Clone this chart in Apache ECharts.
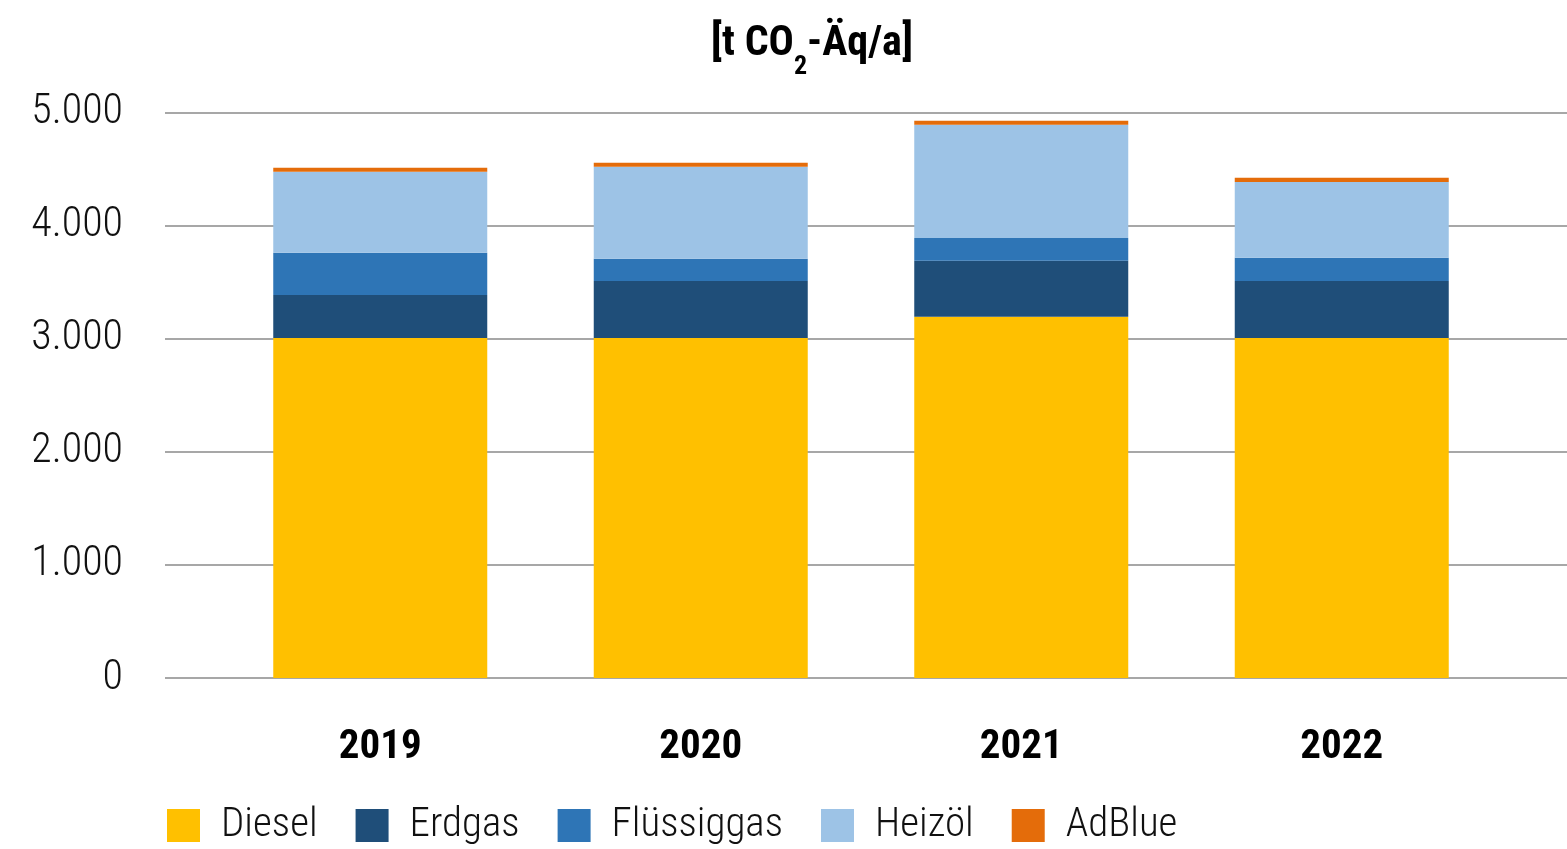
<!DOCTYPE html>
<html>
<head>
<meta charset="utf-8">
<script src="https://cdn.jsdelivr.net/npm/echarts@6/dist/echarts.min.js"></script>
<style>
html,body{margin:0;padding:0;background:#fff;}
#chart{width:1567px;height:849px;}
</style>
</head>
<body>
<div id="chart"></div>
<script>
const years = ['2019', '2020', '2021', '2022'];
const diesel = [3006, 3006, 3192, 3006];
const erdgas = [380, 504, 495, 504];
const fluessiggas = [372, 195, 203, 204];
const heizoel = [716, 813, 999, 671];
const adblue = [35, 35, 36, 36];
const seriesNames = ['Diesel', 'Erdgas', 'Flüssiggas', 'Heizöl', 'AdBlue'];
const seriesColors = ['#FFC000', '#1F4E79', '#2E75B6', '#9DC3E6', '#E46C0A'];
const yMin = 0, yMax = 5000, yStep = 1000;

const FONT = "'Roboto Condensed', 'DejaVu Sans Condensed', sans-serif";
const fmt = v => String(v).replace(/\B(?=(\d{3})+(?!\d))/g, '.');

const chart = echarts.init(document.getElementById('chart'), null, {renderer: 'canvas'});
const values = [diesel, erdgas, fluessiggas, heizoel, adblue];

chart.setOption({
  backgroundColor: '#ffffff',
  animation: false,
  title: {
    text: '{m|[t CO}{s|2}{m|-Äq/a]}',
    left: 812,
    top: 23,
    padding: 0,
    textAlign: 'center',
    textStyle: {
      fontFamily: FONT,
      fontWeight: 'bold',
      fontSize: 42,
      color: '#000',
      rich: {
        m: {fontFamily: FONT, fontWeight: 'bold', fontSize: 42, lineHeight: 42, color: '#000', verticalAlign: 'top'},
        s: {fontFamily: FONT, fontWeight: 'bold', fontSize: 26, lineHeight: 26, color: '#000', verticalAlign: 'top', padding: [31, 0, 0, 0]}
      }
    }
  },
  legend: {
    data: seriesNames,
    left: 167,
    top: 805,
    padding: 0,
    icon: 'rect',
    itemWidth: 33,
    itemHeight: 33,
    itemGap: 38,
    textStyle: {fontFamily: FONT, fontWeight: 300, fontSize: 41, color: '#111', padding: [0, 0, 0, 16]}
  },
  grid: [
    {left: 165, right: 0, top: 112.3, bottom: 171, containLabel: false},
    {left: 220, right: 65, top: 112.3, bottom: 171, containLabel: false}
  ],
  xAxis: [
    {type: 'category', gridIndex: 0, data: years, show: false},
    {
      type: 'category', gridIndex: 1, data: years,
      axisLine: {show: false}, axisTick: {show: false},
      axisLabel: {fontFamily: FONT, fontWeight: 'bold', fontSize: 41, color: '#000', margin: 49}
    }
  ],
  yAxis: [
    {
      type: 'value', gridIndex: 0, min: yMin, max: yMax, interval: yStep,
      axisLine: {show: false}, axisTick: {show: false},
      splitLine: {show: true, lineStyle: {color: '#8a8a8a', width: 1.5}},
      axisLabel: {fontFamily: FONT, fontWeight: 300, fontSize: 42, color: '#111', margin: 42, verticalAlign: 'middle', padding: [9, 0, 0, 0], formatter: fmt}
    },
    {
      type: 'value', gridIndex: 1, min: yMin, max: yMax, interval: yStep,
      show: false, splitLine: {show: false}
    }
  ],
  series: seriesNames.map((name, i) => ({
    name: name,
    type: 'bar',
    stack: 'total',
    xAxisIndex: 1,
    yAxisIndex: 1,
    barWidth: 214,
    itemStyle: {color: seriesColors[i]},
    emphasis: {disabled: true},
    data: values[i]
  }))
});
</script>
</body>
</html>
